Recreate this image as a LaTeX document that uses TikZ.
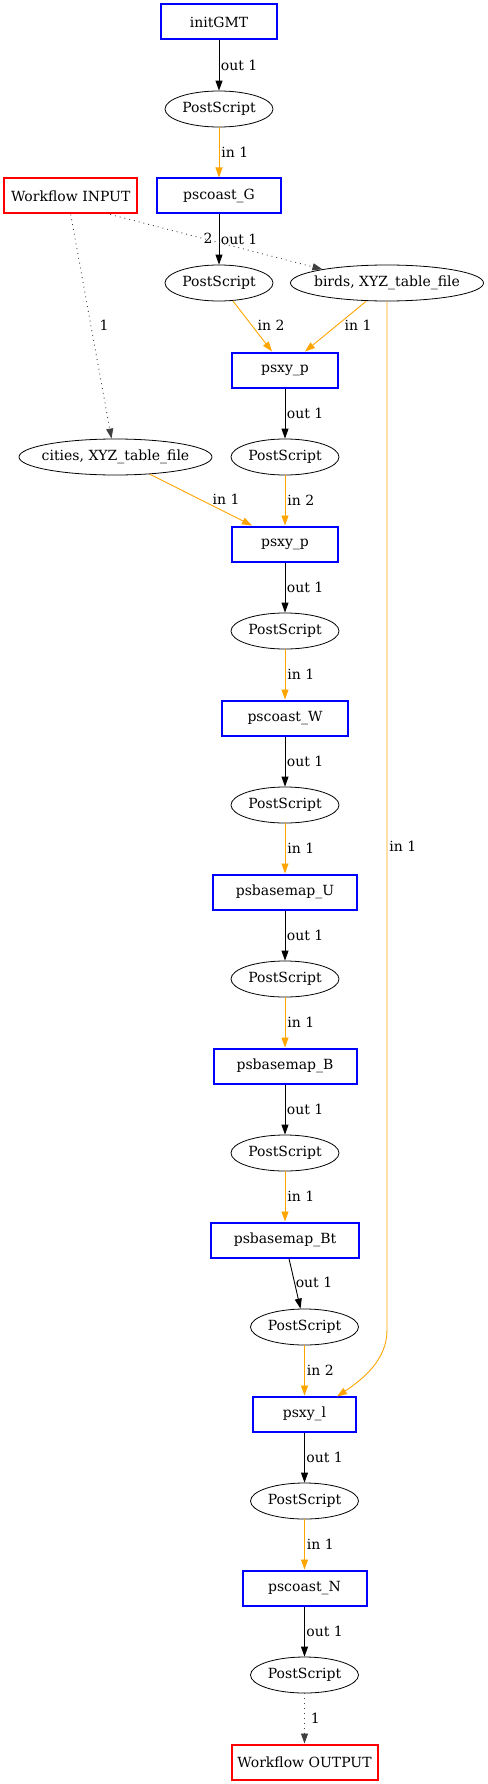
\documentclass[tikz,border=0pt]{standalone}
\usepackage{fontspec}
\setmainfont{DejaVu Serif}
\usetikzlibrary{arrows.meta,shapes.geometric}
\definecolor{gvorange}{HTML}{FFA500}
\begin{document}
\begin{tikzpicture}[x=1pt,y=-1pt,
  font=\fontsize{14}{16}\selectfont,
  proc/.style={draw=blue, line width=2pt, rectangle, minimum height=35pt, inner sep=0pt},
  wio/.style={draw=red, line width=2pt, rectangle, minimum height=35pt, inner sep=0pt},
  data/.style={draw=black, line width=0.8pt, ellipse, minimum width=108pt, minimum height=36pt, inner sep=0pt},
  wide/.style={data, minimum width=193pt, inner xsep=-20pt},
  ed/.style={-{Triangle[length=10pt,width=7pt]}, line width=0.9pt},
  outedge/.style={ed, draw=black},
  inedge/.style={ed, draw=gvorange},
  dotedge/.style={ed, draw=black!75, dash pattern=on 0.9pt off 4pt},
  lbl/.style={anchor=west, inner sep=0pt, text=black, fill=none, draw=none}]
\useasboundingbox (0,0) rectangle (487,1784);

% nodes
\node[proc, minimum width=116pt] (init) at (219,22) {initGMT};
\node[data] (ps1) at (219,109) {PostScript};
\node[proc, minimum width=124pt] (coastG) at (219,196) {pscoast\_G};
\node[wio, minimum width=133pt] (input) at (70.7,196) {Workflow INPUT};
\node[data] (ps2) at (219,283) {PostScript};
\node[wide] (birds) at (387,283) {birds, XYZ\_table\_file};
\node[proc, minimum width=106pt] (psxyA) at (285,370) {psxy\_p};
\node[data] (ps3) at (285,457) {PostScript};
\node[wide] (cities) at (115.5,457) {cities, XYZ\_table\_file};
\node[proc, minimum width=106pt] (psxyB) at (285,544) {psxy\_p};
\node[data] (ps4) at (285,631) {PostScript};
\node[proc, minimum width=126pt] (coastW) at (285,718) {pscoast\_W};
\node[data] (ps5) at (285,805) {PostScript};
\node[proc, minimum width=144pt] (mapU) at (285,892) {psbasemap\_U};
\node[data] (ps6) at (285,979) {PostScript};
\node[proc, minimum width=143pt] (mapB) at (285,1066) {psbasemap\_B};
\node[data] (ps7) at (285,1153) {PostScript};
\node[proc, minimum width=148pt] (mapBt) at (285,1240) {psbasemap\_Bt};
\node[data] (ps8) at (304.5,1327) {PostScript};
\node[proc, minimum width=103pt] (psxyL) at (304.5,1414) {psxy\_l};
\node[data] (ps9) at (304.5,1501) {PostScript};
\node[proc, minimum width=124pt] (coastN) at (304.5,1588) {pscoast\_N};
\node[data] (ps10) at (304.5,1675) {PostScript};
\node[wio, minimum width=146pt] (output) at (304.5,1762) {Workflow OUTPUT};

\coordinate (bend) at (387,1330);
\coordinate (psxyLin) at (337,1396.5);

% edges
\draw[outedge] (init) -- node[lbl, xshift=1.5pt]{out 1} (ps1);
\draw[inedge] (ps1) -- node[lbl, xshift=2pt]{in 1} (coastG);
\draw[outedge] (coastG) -- node[lbl, xshift=1.5pt]{out 1} (ps2);
\draw[dotedge] ([xshift=-28pt]input.south east) -- (birds.168);
\node[inner sep=0pt] (lab2) at (208,238) {2};
\draw[dotedge] (input.south) -- ([xshift=-4pt]cities.north);
\node[inner sep=0pt] (lab1) at (104,325) {1};
\draw[inedge] (ps2) -- ([xshift=-13pt]psxyA.north);
\node[inner sep=0pt] (lab3) at (271,325) {in 2};
\draw[inedge] ([xshift=-21pt]birds.south) -- ([xshift=20pt]psxyA.north);
\node[inner sep=0pt] (lab4) at (358,325) {in 1};
\draw[outedge] (psxyA) -- node[lbl, xshift=1.5pt]{out 1} (ps3);
\draw[inedge] (cities) -- ([xshift=-33pt]psxyB.north);
\node[inner sep=0pt] (lab5) at (226,499) {in 1};
\draw[inedge] (ps3) -- node[lbl, xshift=2pt]{in 2} (psxyB);
\draw[outedge] (psxyB) -- node[lbl, xshift=1.5pt]{out 1} (ps4);
\draw[inedge] (ps4) -- node[lbl, xshift=2pt]{in 1} (coastW);
\draw[outedge] (coastW) -- node[lbl, xshift=1.5pt]{out 1} (ps5);
\draw[inedge] (ps5) -- node[lbl, xshift=2pt]{in 1} (mapU);
\draw[outedge] (mapU) -- node[lbl, xshift=1.5pt]{out 1} (ps6);
\draw[inedge] (ps6) -- node[lbl, xshift=2pt]{in 1} (mapB);
\draw[outedge] (mapB) -- node[lbl, xshift=1.5pt]{out 1} (ps7);
\draw[inedge] (ps7) -- node[lbl, xshift=2pt]{in 1} (mapBt);
\draw[outedge] ([xshift=4pt]mapBt.south) -- ([xshift=-4pt]ps8.north);
\node[inner sep=0pt] (lab6) at (314,1282) {out 1};
\draw[inedge] (ps8) -- node[lbl, xshift=2pt]{in 2} (psxyL);
\draw[inedge] (birds.south) -- node[lbl, pos=0.53, xshift=2pt]{in 1} (bend)
   .. controls (387,1360) and (363,1379) .. (psxyLin);
\draw[outedge] (psxyL) -- node[lbl, xshift=1.5pt]{out 1} (ps9);
\draw[inedge] (ps9) -- node[lbl, xshift=2pt]{in 1} (coastN);
\draw[outedge] (coastN) -- node[lbl, xshift=1.5pt]{out 1} (ps10);
\draw[dotedge] (ps10) -- node[lbl, xshift=6pt]{1} (output);
\end{tikzpicture}
\end{document}
